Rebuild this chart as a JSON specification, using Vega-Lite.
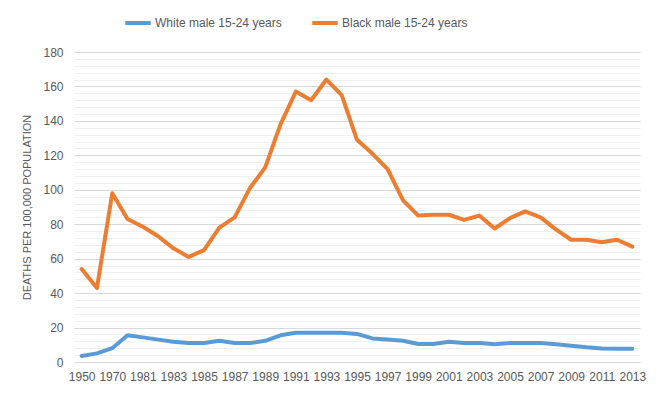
{
  "$schema": "https://vega.github.io/schema/vega-lite/v6.json",
  "autosize": {"type": "none"},
  "width": 566,
  "height": 310,
  "padding": {"left": 74, "top": 52, "right": 26, "bottom": 39},
  "background": "white",
  "config": {
    "view": {"stroke": null},
    "font": "Liberation Sans",
    "axis": {"labelColor": "#595959", "titleColor": "#595959", "labelFont": "Liberation Sans", "titleFont": "Liberation Sans"},
    "legend": {"labelColor": "#595959", "labelFont": "Liberation Sans"}
  },
  "data": {
    "values": [
      {"year": "1950", "series": "White male 15-24 years", "value": 3.5},
      {"year": "1960", "series": "White male 15-24 years", "value": 5},
      {"year": "1970", "series": "White male 15-24 years", "value": 8},
      {"year": "1980", "series": "White male 15-24 years", "value": 15.5},
      {"year": "1981", "series": "White male 15-24 years", "value": 14.3},
      {"year": "1982", "series": "White male 15-24 years", "value": 13},
      {"year": "1983", "series": "White male 15-24 years", "value": 11.8},
      {"year": "1984", "series": "White male 15-24 years", "value": 11},
      {"year": "1985", "series": "White male 15-24 years", "value": 11},
      {"year": "1986", "series": "White male 15-24 years", "value": 12.3},
      {"year": "1987", "series": "White male 15-24 years", "value": 11},
      {"year": "1988", "series": "White male 15-24 years", "value": 11},
      {"year": "1989", "series": "White male 15-24 years", "value": 12.3},
      {"year": "1990", "series": "White male 15-24 years", "value": 15.5},
      {"year": "1991", "series": "White male 15-24 years", "value": 17},
      {"year": "1992", "series": "White male 15-24 years", "value": 17},
      {"year": "1993", "series": "White male 15-24 years", "value": 17},
      {"year": "1994", "series": "White male 15-24 years", "value": 17},
      {"year": "1995", "series": "White male 15-24 years", "value": 16.3},
      {"year": "1996", "series": "White male 15-24 years", "value": 13.7},
      {"year": "1997", "series": "White male 15-24 years", "value": 13},
      {"year": "1998", "series": "White male 15-24 years", "value": 12.3},
      {"year": "1999", "series": "White male 15-24 years", "value": 10.5},
      {"year": "2000", "series": "White male 15-24 years", "value": 10.5},
      {"year": "2001", "series": "White male 15-24 years", "value": 11.8},
      {"year": "2002", "series": "White male 15-24 years", "value": 11},
      {"year": "2003", "series": "White male 15-24 years", "value": 11},
      {"year": "2004", "series": "White male 15-24 years", "value": 10.3},
      {"year": "2005", "series": "White male 15-24 years", "value": 11},
      {"year": "2006", "series": "White male 15-24 years", "value": 11},
      {"year": "2007", "series": "White male 15-24 years", "value": 11},
      {"year": "2008", "series": "White male 15-24 years", "value": 10.3},
      {"year": "2009", "series": "White male 15-24 years", "value": 9.5},
      {"year": "2010", "series": "White male 15-24 years", "value": 8.5},
      {"year": "2011", "series": "White male 15-24 years", "value": 7.8},
      {"year": "2012", "series": "White male 15-24 years", "value": 7.7},
      {"year": "2013", "series": "White male 15-24 years", "value": 7.7},
      {"year": "1950", "series": "Black male 15-24 years", "value": 54},
      {"year": "1960", "series": "Black male 15-24 years", "value": 43},
      {"year": "1970", "series": "Black male 15-24 years", "value": 98},
      {"year": "1980", "series": "Black male 15-24 years", "value": 83},
      {"year": "1981", "series": "Black male 15-24 years", "value": 78.5},
      {"year": "1982", "series": "Black male 15-24 years", "value": 73},
      {"year": "1983", "series": "Black male 15-24 years", "value": 66},
      {"year": "1984", "series": "Black male 15-24 years", "value": 61},
      {"year": "1985", "series": "Black male 15-24 years", "value": 65},
      {"year": "1986", "series": "Black male 15-24 years", "value": 78},
      {"year": "1987", "series": "Black male 15-24 years", "value": 84},
      {"year": "1988", "series": "Black male 15-24 years", "value": 101},
      {"year": "1989", "series": "Black male 15-24 years", "value": 113},
      {"year": "1990", "series": "Black male 15-24 years", "value": 138},
      {"year": "1991", "series": "Black male 15-24 years", "value": 157},
      {"year": "1992", "series": "Black male 15-24 years", "value": 152},
      {"year": "1993", "series": "Black male 15-24 years", "value": 164},
      {"year": "1994", "series": "Black male 15-24 years", "value": 155},
      {"year": "1995", "series": "Black male 15-24 years", "value": 129},
      {"year": "1996", "series": "Black male 15-24 years", "value": 121},
      {"year": "1997", "series": "Black male 15-24 years", "value": 112},
      {"year": "1998", "series": "Black male 15-24 years", "value": 94},
      {"year": "1999", "series": "Black male 15-24 years", "value": 85},
      {"year": "2000", "series": "Black male 15-24 years", "value": 85.5},
      {"year": "2001", "series": "Black male 15-24 years", "value": 85.5},
      {"year": "2002", "series": "Black male 15-24 years", "value": 82.5},
      {"year": "2003", "series": "Black male 15-24 years", "value": 85},
      {"year": "2004", "series": "Black male 15-24 years", "value": 77.5},
      {"year": "2005", "series": "Black male 15-24 years", "value": 83.5},
      {"year": "2006", "series": "Black male 15-24 years", "value": 87.5},
      {"year": "2007", "series": "Black male 15-24 years", "value": 84},
      {"year": "2008", "series": "Black male 15-24 years", "value": 77},
      {"year": "2009", "series": "Black male 15-24 years", "value": 71},
      {"year": "2010", "series": "Black male 15-24 years", "value": 71},
      {"year": "2011", "series": "Black male 15-24 years", "value": 69.5},
      {"year": "2012", "series": "Black male 15-24 years", "value": 71},
      {"year": "2013", "series": "Black male 15-24 years", "value": 67}
    ]
  },
  "layer": [
    {
      "mark": {"type": "line", "opacity": 0},
      "encoding": {
        "x": {
          "field": "year", "type": "ordinal", "sort": null,
          "scale": {"type": "point", "padding": 0.5},
          "axis": {
            "title": null,
            "values": ["1950","1970","1981","1983","1985","1987","1989","1991","1993","1995","1997","1999","2001","2003","2005","2007","2009","2011","2013"],
            "labelAngle": 0, "labelFontSize": 12, "labelOverlap": false,
            "labelPadding": 9, "ticks": false, "domain": false, "grid": false
          }
        },
        "y": {
          "field": "value", "type": "quantitative",
          "scale": {"domain": [0, 180], "nice": false, "zero": true},
          "axis": {
            "orient": "left",
            "values": [0,4,8,12,16,20,24,28,32,36,40,44,48,52,56,60,64,68,72,76,80,84,88,92,96,100,104,108,112,116,120,124,128,132,136,140,144,148,152,156,160,164,168,172,176,180],
            "grid": true, "gridColor": "#F0F0F0", "gridWidth": 1,
            "labels": false, "ticks": false, "domain": false, "title": null
          }
        },
        "detail": {"field": "series"}
      }
    },
    {
      "mark": {"type": "line", "strokeWidth": 4, "strokeCap": "round", "strokeJoin": "round"},
      "encoding": {
        "x": {
          "field": "year", "type": "ordinal", "sort": null,
          "scale": {"type": "point", "padding": 0.5},
          "axis": {
            "title": null,
            "values": ["1950","1970","1981","1983","1985","1987","1989","1991","1993","1995","1997","1999","2001","2003","2005","2007","2009","2011","2013"],
            "labelAngle": 0, "labelFontSize": 12, "labelOverlap": false,
            "labelPadding": 9, "ticks": false, "domain": false, "grid": false
          }
        },
        "y": {
          "field": "value", "type": "quantitative",
          "scale": {"domain": [0, 180], "nice": false, "zero": true},
          "axis": {
            "orient": "left",
            "values": [0,20,40,60,80,100,120,140,160,180],
            "grid": true, "gridColor": "#D9D9D9", "gridWidth": 1,
            "ticks": false, "domain": false,
            "labelFontSize": 12, "labelPadding": 11,
            "title": "DEATHS PER 100,000 POPULATION",
            "titleFontSize": 11, "titleFontWeight": "normal", "titlePadding": 10
          }
        },
        "color": {
          "field": "series", "type": "nominal",
          "scale": {"domain": ["White male 15-24 years", "Black male 15-24 years"], "range": ["#5B9BD5", "#ED7D31"]},
          "legend": {
            "title": null, "orient": "none", "direction": "horizontal",
            "legendX": 49, "legendY": -44,
            "symbolType": "stroke", "symbolSize": 650, "symbolStrokeWidth": 4,
            "labelFontSize": 12, "labelOffset": 2, "columnPadding": 22
          }
        }
      }
    }
  ],
  "resolve": {"axis": {"y": "independent"}}
}
